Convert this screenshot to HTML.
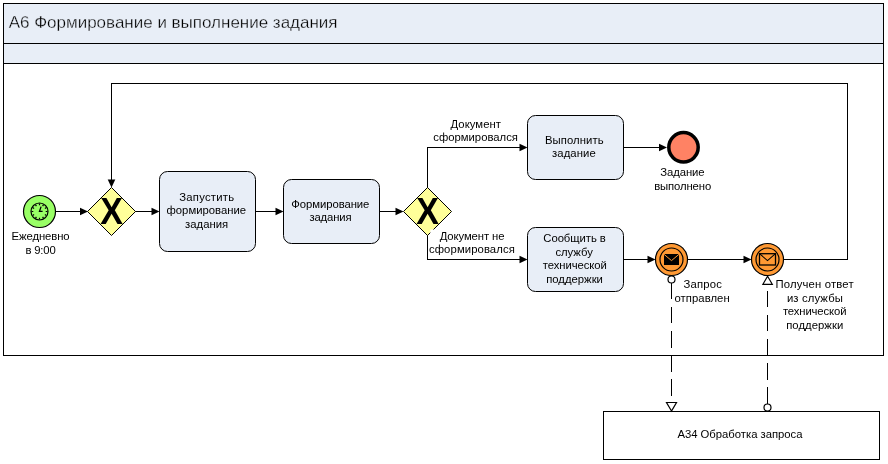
<!DOCTYPE html>
<html lang="ru">
<head>
<meta charset="utf-8">
<title>А6 Формирование и выполнение задания</title>
<style>
html,body{margin:0;padding:0;background:#fff;}
body{width:888px;height:464px;overflow:hidden;}
svg{display:block;will-change:transform;}
text{font-family:"Liberation Sans",sans-serif;fill:#000;text-anchor:middle;}
.t{font-size:11.3px;}
.tt{font-size:17.0px;stroke:#e8eef7;stroke-width:0.3px;}
.x{font-size:36.4px;font-weight:bold;}
.l{stroke:#000;stroke-width:1;fill:none;shape-rendering:crispEdges;}
.task{fill:#e8eef7;stroke:#000;stroke-width:1;}
.gw{fill:#ffff99;stroke:#000;stroke-width:1;}
.ah{fill:#000;stroke:none;}
.ev{stroke:#000;stroke-width:1.2;}
</style>
</head>
<body>
<svg width="888" height="464" viewBox="0 0 888 464">
<rect x="0" y="0" width="888" height="464" fill="#fff"/>

<!-- pool frame -->
<rect x="3.5" y="3.5" width="880" height="60" fill="#e8eef7" stroke="none"/>
<rect class="l" x="3.5" y="3.5" width="880" height="352"/>
<path class="l" d="M3.5 43.5H883.5M3.5 63.5H883.5"/>
<text class="tt" x="173.10" y="28.00" textLength="328.90" lengthAdjust="spacing">А6 Формирование и выполнение задания</text>

<!-- sequence flows -->
<path class="l" d="M56 211.5H82"/>
<path class="ah" d="M88 211.5L80 207.7V215.3Z"/>
<path class="l" d="M135 211.5H153"/>
<path class="ah" d="M159.5 211.5L151.5 207.7V215.3Z"/>
<path class="l" d="M255.5 211.5H277"/>
<path class="ah" d="M283.5 211.5L275.5 207.7V215.3Z"/>
<path class="l" d="M379.5 211.5H397"/>
<path class="ah" d="M403.5 211.5L395.5 207.7V215.3Z"/>
<path class="l" d="M427.5 188V147.5H521"/>
<path class="ah" d="M527.5 147.5L519.5 143.7V151.3Z"/>
<path class="l" d="M427.5 235V259.5H521"/>
<path class="ah" d="M527.5 259.5L519.5 255.7V263.3Z"/>
<path class="l" d="M623.5 147.5H661"/>
<path class="ah" d="M667 147.5L659 143.7V151.3Z"/>
<path class="l" d="M623.5 259.5H649"/>
<path class="ah" d="M655.5 259.5L647.5 255.7V263.3Z"/>
<path class="l" d="M688 259.5H745"/>
<path class="ah" d="M751.5 259.5L743.5 255.7V263.3Z"/>
<path class="l" d="M784 259.5H847.5V83.5H111.5V181"/>
<path class="ah" d="M111.5 187.5L107.7 179.5H115.3Z"/>

<!-- message flows -->
<path class="l" d="M671.5 282.5V402" stroke-dasharray="16.6 7.6"/>
<path class="l" d="M767.5 404V284" stroke-dasharray="16.6 7.6"/>

<!-- start timer event -->
<circle class="ev" cx="39.5" cy="211.5" r="16" fill="#99ff66"/>
<circle class="ev" cx="39.5" cy="211.5" r="8.5" fill="none"/>
<g stroke="#000" stroke-width="1.2" fill="none">
<path d="M39.5 203.5v1.8M39.5 219.5v-1.8M31.5 211.5h1.8M47.5 211.5h-1.8"/>
<path d="M43.5 204.6l-.9 1.5M35.5 218.4l.9-1.5M46.4 207.5l-1.5 .9M32.6 215.5l1.5-.9M46.4 215.5l-1.5-.9M32.6 207.5l1.5 .9M43.5 218.4l-.9-1.5M35.5 204.6l.9 1.5"/>
<path d="M41.1 206.6L39.5 211.3H42.6" stroke-width="1.3"/>
</g>
<text class="t" x="40.60" y="239.50" textLength="58.00" lengthAdjust="spacing">Ежедневно</text>
<text class="t" x="40.60" y="253.50" textLength="30.20" lengthAdjust="spacing">в 9:00</text>

<!-- gateway 1 -->
<path class="gw" d="M111.5 187.5L135.5 211.5L111.5 235.5L87.5 211.5Z"/>
<text class="x" transform="translate(111.5 223.7) scale(0.935 1)">X</text>

<!-- task 1 -->
<rect class="task" x="159.5" y="171.5" width="96" height="80" rx="8" ry="8"/>
<text class="t b" x="206.70" y="201.00" textLength="54.80" lengthAdjust="spacing">Запустить</text>
<text class="t b" x="206.30" y="214.00" textLength="79.60" lengthAdjust="spacing">формирование</text>
<text class="t b" x="206.65" y="228.00" textLength="43.10" lengthAdjust="spacing">задания</text>

<!-- task 2 -->
<rect class="task" x="283.5" y="179.5" width="96" height="64" rx="8" ry="8"/>
<text class="t b" x="330.35" y="208.30" textLength="78.10" lengthAdjust="spacing">Формирование</text>
<text class="t b" x="330.50" y="221.30" textLength="42.20" lengthAdjust="spacing">задания</text>

<!-- gateway 2 -->
<path class="gw" d="M427.5 187.5L451.5 211.5L427.5 235.5L403.5 211.5Z"/>
<text class="x" transform="translate(427.5 223.7) scale(0.935 1)">X</text>

<!-- flow labels -->
<text class="t" x="475.75" y="128.30" textLength="50.50" lengthAdjust="spacing">Документ</text>
<text class="t" x="475.60" y="140.70" textLength="84.60" lengthAdjust="spacing">сформировался</text>
<rect x="430.3" y="229.5" width="85" height="26" fill="#fff"/>
<text class="t" x="472.10" y="240.20" textLength="64.80" lengthAdjust="spacing">Документ не</text>
<text class="t" x="471.90" y="252.80" textLength="85.80" lengthAdjust="spacing">сформировался</text>

<!-- task 3 -->
<rect class="task" x="527.5" y="115.5" width="96" height="64" rx="8" ry="8"/>
<text class="t b" x="574.30" y="144.20" textLength="58.60" lengthAdjust="spacing">Выполнить</text>
<text class="t b" x="573.90" y="157.20" textLength="43.60" lengthAdjust="spacing">задание</text>

<!-- task 4 -->
<rect class="task" x="527.5" y="227.5" width="96" height="64" rx="8" ry="8"/>
<text class="t b" x="574.55" y="242.00" textLength="62.50" lengthAdjust="spacing">Сообщить в</text>
<text class="t b" x="574.15" y="255.70" textLength="37.50" lengthAdjust="spacing">службу</text>
<text class="t b" x="574.75" y="269.10" textLength="63.90" lengthAdjust="spacing">технической</text>
<text class="t b" x="574.55" y="283.00" textLength="56.70" lengthAdjust="spacing">поддержки</text>

<!-- end event -->
<circle cx="683.5" cy="147.3" r="14.7" fill="#ff8264" stroke="#000" stroke-width="3.5"/>
<text class="t" x="682.40" y="175.50" textLength="44.40" lengthAdjust="spacing">Задание</text>
<text class="t" x="682.70" y="189.50" textLength="57.00" lengthAdjust="spacing">выполнено</text>

<!-- message throw event -->
<circle class="ev" cx="671.5" cy="259.5" r="16" fill="#ff9933"/>
<circle class="ev" cx="671.5" cy="259.5" r="11.5" fill="none"/>
<rect x="664" y="254" width="15" height="11" fill="#000"/>
<path d="M664 254.3L671.5 260.6L679 254.3" fill="none" stroke="#ff9933" stroke-width="1"/>
<circle class="ev" cx="671.5" cy="279.5" r="3.5" fill="#fff"/>
<text class="t" x="702.60" y="287.50" textLength="38.40" lengthAdjust="spacing">Запрос</text>
<text class="t" x="702.05" y="301.70" textLength="55.30" lengthAdjust="spacing">отправлен</text>

<!-- message catch event -->
<circle class="ev" cx="767.5" cy="259.5" r="16" fill="#ff9933"/>
<circle class="ev" cx="767.5" cy="259.5" r="11.5" fill="none"/>
<rect x="759.5" y="253.7" width="16" height="11.3" fill="#ff9933" stroke="#000" stroke-width="1.3"/>
<path d="M759.5 253.7L767.5 260.6L775.5 253.7" fill="none" stroke="#000" stroke-width="1.1"/>
<path class="ev" d="M767.6 276.3L772.3 284.3H762.9Z" fill="#fff"/>
<text class="t" x="814.55" y="288.10" textLength="78.10" lengthAdjust="spacing">Получен ответ</text>
<text class="t" x="814.90" y="302.20" textLength="56.00" lengthAdjust="spacing">из службы</text>
<text class="t" x="814.70" y="315.20" textLength="63.60" lengthAdjust="spacing">технической</text>
<text class="t" x="814.70" y="328.90" textLength="57.00" lengthAdjust="spacing">поддержки</text>

<!-- message flow end markers -->
<path class="ev" d="M671.5 411L666.5 402.5H676.5Z" fill="#fff"/>
<circle class="ev" cx="767.5" cy="407.5" r="3.5" fill="#fff"/>

<!-- external pool -->
<rect class="l" x="603.5" y="411.5" width="276" height="48" fill="#fff"/>
<text class="t" x="739.95" y="438.00" textLength="125.10" lengthAdjust="spacing">А34 Обработка запроса</text>
</svg>
</body>
</html>
